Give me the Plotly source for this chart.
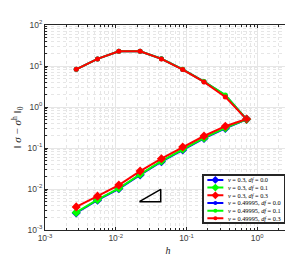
import plotly.graph_objects as go

h = [0.7071, 0.3536, 0.1768, 0.0884, 0.0442, 0.0221, 0.01105, 0.005524, 0.002762]

# nu = 0.3 (lower curves)
e_03_00 = [0.50, 0.30, 0.171, 0.090, 0.0465, 0.0221, 0.0101, 0.00535, 0.0026]
e_03_01 = [0.50, 0.31, 0.176, 0.093, 0.048, 0.0228, 0.0104, 0.0055, 0.00268]
e_03_03 = [0.51, 0.34, 0.196, 0.106, 0.0547, 0.0273, 0.01245, 0.0067, 0.00366]
# nu = 0.49995 (upper curves)
e_49_00 = [0.50, 1.92, 4.15, 8.25, 15.0, 22.8, 22.8, 14.9, 8.3]
e_49_01 = [0.50, 1.95, 4.18, 8.28, 15.0, 22.8, 22.8, 14.9, 8.3]
e_49_03 = [0.50, 1.76, 4.08, 8.20, 14.9, 22.8, 22.8, 14.9, 8.3]

tri_x = [0.0216, 0.0432, 0.0432, 0.0216]
tri_y = [0.0049, 0.0049, 0.0098, 0.0049]

tick_vals_x = [0.001, 0.01, 0.1, 1]
tick_text_x = ["10<sup>-3</sup>", "10<sup>-2</sup>", "10<sup>-1</sup>", "10<sup>0</sup>"]
tick_vals_y = [0.001, 0.01, 0.1, 1, 10, 100]
tick_text_y = ["10<sup>-3</sup>", "10<sup>-2</sup>", "10<sup>-1</sup>", "10<sup>0</sup>", "10<sup>1</sup>", "10<sup>2</sup>"]

names = ["<i>ν</i> = 0.3, <i>df</i> = 0.0", "<i>ν</i> = 0.3, <i>df</i> = 0.1", "<i>ν</i> = 0.3, <i>df</i> = 0.3",
         "<i>ν</i> = 0.49995, <i>df</i> = 0.0", "<i>ν</i> = 0.49995, <i>df</i> = 0.1", "<i>ν</i> = 0.49995, <i>df</i> = 0.3"]
series = [e_03_00, e_03_01, e_03_03, e_49_00, e_49_01, e_49_03]
colors = ["#0000ff", "#00ff00", "#ff0000", "#0000ff", "#00ff00", "#ff0000"]
symbols = ["diamond", "diamond", "diamond", "circle", "circle", "circle"]
sizes = [7, 7, 7, 5, 5, 5]

fig = go.Figure()
for n, s, c, sym, sz in zip(names, series, colors, symbols, sizes):
    fig.add_trace(go.Scatter(x=h, y=s, name=n, mode="lines+markers", showlegend=False,
                             line=dict(color=c, width=2),
                             marker=dict(symbol=sym, size=sz, color=c)))
fig.add_trace(go.Scatter(x=tri_x, y=tri_y, mode="lines", showlegend=False,
                         line=dict(color="black", width=1.5)))

# manual legend in an inset axis
nrow = len(names)
for i, (n, c, sym, sz) in enumerate(zip(names, colors, symbols, sizes)):
    yy = nrow - i - 0.5
    fig.add_trace(go.Scatter(x=[0.04, 0.24], y=[yy, yy], mode="lines",
                             xaxis="x2", yaxis="y2", showlegend=False, hoverinfo="skip",
                             line=dict(color=c, width=2)))
    fig.add_trace(go.Scatter(x=[0.14], y=[yy], mode="markers",
                             xaxis="x2", yaxis="y2", showlegend=False, hoverinfo="skip",
                             marker=dict(symbol=sym, size=sz - 1, color=c)))
    fig.add_annotation(x=0.27, y=yy, xref="x2", yref="y2", text=n, showarrow=False,
                       xanchor="left", yanchor="middle",
                       font=dict(family="Liberation Serif", size=6.3, color="black"))

axcommon = dict(type="log", showline=True, mirror="ticks",
                linecolor="#262626", linewidth=1, ticks="inside", ticklen=3, tickcolor="#262626",
                showgrid=True, gridcolor="#e6e6e6", gridwidth=1, zeroline=False,
                tickfont=dict(family="Liberation Sans", size=8.5, color="#404040"),
                minor=dict(dtick="D1", showgrid=True, gridcolor="#e6e6e6", griddash="dot",
                           ticks="inside", ticklen=2, tickcolor="#262626"))

fig.update_layout(
    xaxis=dict(range=[-3, 0.477], tickvals=tick_vals_x, ticktext=tick_text_x,
               title=dict(text="<i>h</i>", standoff=4,
                          font=dict(family="Liberation Serif", size=10, color="#262626")), **axcommon),
    yaxis=dict(range=[-3, 2], tickvals=tick_vals_y, ticktext=tick_text_y,
               title=dict(text="‖ <i>σ</i> − <i>σ</i><sup>h</sup> ‖<sub>0</sub>", standoff=3,
                          font=dict(family="Liberation Serif", size=11, color="#262626")), **axcommon),
    xaxis2=dict(domain=[0.647, 0.972], anchor="y2", range=[0, 1], showgrid=False, zeroline=False,
                showticklabels=False, ticks="", showline=True, mirror=True, linecolor="#262626", linewidth=1.5),
    yaxis2=dict(domain=[0.038, 0.263], anchor="x2", range=[0, nrow], showgrid=False, zeroline=False,
                showticklabels=False, ticks="", showline=True, mirror=True, linecolor="#262626", linewidth=1.5),
    width=293, height=255, margin=dict(l=32, r=9, t=17, b=28),
    paper_bgcolor="white", plot_bgcolor="white", showlegend=False)
fig.write_html("out.html")
